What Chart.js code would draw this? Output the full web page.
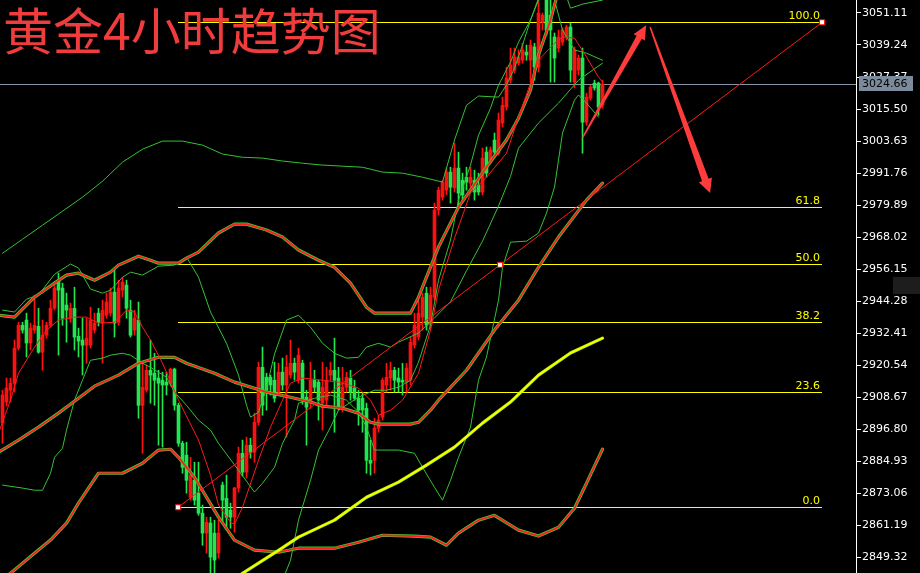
<!DOCTYPE html>
<html>
<head>
<meta charset="utf-8">
<script src="https://cdn.jsdelivr.net/npm/chart.js@4/dist/chart.umd.min.js"></script>
<style>
  html, body { margin: 0; padding: 0; background: #000; }
  #wrap { width: 920px; height: 573px; position: relative; }
  canvas { background: #000; display: block; }
</style>
</head>
<body>
<div id="wrap"><canvas id="goldChart" width="920" height="573"></canvas></div>
<script>
/* ============================================
   GOLD 4H CHART - candles, bands, fib levels
   ============================================ */

const chartTitle = '黄金4小时趋势图';

// price axis ticks
const yTicks = [3051.11, 3039.24, 3027.37, 3015.50, 3003.63, 2991.76, 2979.89, 2968.02, 2956.15,
  2944.28, 2932.41, 2920.54, 2908.67, 2896.80, 2884.93, 2873.06, 2861.19, 2849.32];
const yMin = 2843.40;
const yMax = 3055.93;
const lastPrice = 3024.66;

// candles, one per 4h bar (index 0..150)
const candleOpen = [
  2899.0, 2906.8, 2911.2, 2913.8, 2926.8, 2935.3, 2937.2, 2928.7, 2933.5, 2934.9,
  2925.3, 2931.6, 2935.3, 2941.6, 2952.0, 2949.1, 2942.8, 2937.9, 2941.6, 2931.2,
  2929.8, 2927.9, 2927.9, 2933.5, 2939.8, 2936.1, 2939.0, 2939.8, 2947.6, 2936.4,
  2948.3, 2950.2, 2940.9, 2933.5, 2937.2, 2905.6, 2911.2, 2918.6, 2917.5, 2915.7,
  2914.9, 2914.2, 2913.8, 2919.0, 2905.6, 2891.5, 2887.1, 2871.5, 2877.8, 2873.0,
  2865.6, 2858.2, 2861.9, 2858.2, 2850.8, 2876.0, 2871.1, 2866.7, 2864.1, 2874.9,
  2887.8, 2880.8, 2890.8, 2888.2, 2899.3, 2919.7, 2916.0, 2916.0, 2914.9, 2910.5,
  2917.9, 2913.1, 2916.8, 2921.2, 2914.9, 2921.2, 2908.6, 2906.8, 2914.9, 2914.2,
  2906.4, 2907.5, 2916.8, 2918.6, 2915.7, 2904.9, 2912.3, 2915.7, 2912.0, 2908.2,
  2908.2, 2904.5, 2885.2, 2885.2, 2897.1, 2901.2, 2913.1, 2915.7, 2918.6, 2915.7,
  2914.9, 2914.2, 2914.9, 2927.9, 2930.9, 2938.3, 2947.2, 2935.3, 2945.7, 2978.0,
  2982.8, 2985.4, 2992.1, 2986.2, 2993.6, 2989.1, 2990.2, 2988.0, 2989.1, 2987.3,
  2984.7, 2999.5, 2996.5, 3004.0, 2999.1, 3010.3, 3016.2, 3026.2, 3029.9, 3032.5,
  3033.6, 3036.6, 3033.6, 3038.5, 3031.0, 3047.7, 3057.8, 3050.3, 3042.2, 3038.1,
  3040.3, 3042.2, 3045.9, 3025.5, 3029.9, 3034.4, 3010.6, 3019.5, 3025.1, 3025.1,
  3016.9
];
const candleHigh = [
  2911.2, 2915.7, 2915.7, 2929.8, 2936.4, 2936.4, 2939.8, 2936.1, 2946.5, 2941.6,
  2937.2, 2936.4, 2944.6, 2951.3, 2954.6, 2950.9, 2947.2, 2943.5, 2949.4, 2934.2,
  2937.9, 2937.9, 2942.0, 2939.8, 2941.6, 2944.6, 2947.2, 2949.1, 2955.7, 2952.0,
  2953.1, 2952.0, 2944.6, 2940.9, 2943.9, 2921.2, 2920.5, 2929.8, 2924.9, 2918.6,
  2917.9, 2917.9, 2919.4, 2919.4, 2906.4, 2892.3, 2891.9, 2886.3, 2884.5, 2884.5,
  2868.6, 2864.1, 2864.1, 2863.0, 2863.0, 2877.1, 2879.7, 2869.3, 2875.2, 2890.1,
  2892.7, 2893.8, 2893.4, 2902.7, 2921.6, 2927.2, 2917.5, 2916.8, 2921.6, 2921.2,
  2923.1, 2924.2, 2929.8, 2923.1, 2926.8, 2922.3, 2911.2, 2921.6, 2918.6, 2914.9,
  2921.6, 2919.7, 2921.6, 2930.5, 2919.7, 2919.7, 2917.9, 2918.6, 2914.9, 2911.2,
  2910.1, 2906.4, 2892.7, 2900.8, 2901.9, 2915.7, 2921.2, 2921.6, 2919.7, 2919.4,
  2921.2, 2921.2, 2930.9, 2939.8, 2944.6, 2947.2, 2949.4, 2949.4, 2980.6, 2986.5,
  2989.1, 2993.6, 2993.9, 3002.8, 2999.5, 2991.7, 2993.9, 2993.9, 2992.8, 2991.7,
  3001.0, 3001.4, 3001.4, 3006.6, 3014.0, 3019.9, 3031.0, 3038.1, 3038.1, 3037.4,
  3039.9, 3039.2, 3041.1, 3039.9, 3057.8, 3051.1, 3059.6, 3057.8, 3043.7, 3044.8,
  3045.5, 3046.6, 3047.4, 3038.5, 3035.5, 3038.1, 3021.4, 3024.4, 3026.2, 3025.5,
  3026.2
];
const candleLow = [
  2891.5, 2905.3, 2906.8, 2910.5, 2926.1, 2932.4, 2923.5, 2926.1, 2932.4, 2924.9,
  2918.6, 2930.5, 2934.6, 2940.9, 2924.2, 2935.3, 2929.0, 2936.4, 2926.1, 2923.5,
  2916.8, 2921.2, 2926.8, 2932.4, 2935.0, 2921.2, 2937.9, 2938.7, 2930.9, 2935.3,
  2945.7, 2937.9, 2930.9, 2931.6, 2900.8, 2887.8, 2910.5, 2906.4, 2905.6, 2890.8,
  2890.1, 2909.4, 2912.7, 2903.8, 2890.4, 2880.4, 2873.0, 2870.4, 2868.6, 2864.8,
  2853.7, 2850.8, 2843.3, 2840.7, 2848.9, 2862.2, 2860.0, 2860.0, 2858.5, 2873.4,
  2879.3, 2878.6, 2886.0, 2884.5, 2898.2, 2901.9, 2903.8, 2909.4, 2906.8, 2909.4,
  2911.2, 2893.8, 2915.7, 2914.9, 2913.8, 2906.0, 2890.8, 2904.5, 2910.5, 2900.1,
  2896.4, 2905.6, 2914.9, 2895.6, 2903.8, 2903.1, 2910.5, 2907.5, 2907.5, 2898.2,
  2895.6, 2880.4, 2879.7, 2880.4, 2895.6, 2900.1, 2910.5, 2911.2, 2910.5, 2910.5,
  2909.4, 2910.5, 2913.1, 2926.8, 2929.8, 2933.5, 2933.5, 2934.2, 2944.6, 2976.1,
  2981.7, 2983.6, 2980.6, 2984.7, 2979.1, 2981.7, 2985.4, 2986.5, 2981.7, 2983.6,
  2983.6, 2990.2, 2995.4, 2997.7, 2998.4, 3008.8, 3015.1, 3025.1, 3028.8, 3031.8,
  3032.5, 3033.6, 3025.5, 3026.2, 3029.2, 3044.8, 3042.9, 3025.5, 3025.5, 3036.6,
  3039.2, 3041.1, 3025.5, 3023.3, 3028.1, 2999.1, 3009.5, 3018.8, 3022.5, 3013.2,
  3015.8
];
const candleClose = [
  2909.4, 2912.0, 2913.8, 2926.8, 2935.3, 2933.5, 2928.7, 2934.2, 2935.3, 2925.3,
  2931.6, 2935.3, 2941.6, 2949.1, 2948.3, 2937.9, 2940.9, 2941.6, 2930.9, 2929.4,
  2927.9, 2930.5, 2937.2, 2936.1, 2936.4, 2940.9, 2943.9, 2947.6, 2936.1, 2949.1,
  2951.3, 2941.6, 2931.6, 2937.9, 2905.6, 2912.3, 2918.6, 2916.8, 2914.9, 2913.8,
  2913.1, 2913.1, 2919.0, 2905.6, 2891.5, 2882.6, 2877.8, 2879.7, 2870.4, 2865.6,
  2858.2, 2862.2, 2849.3, 2848.2, 2858.2, 2870.4, 2864.1, 2864.1, 2874.9, 2887.8,
  2880.8, 2890.8, 2888.2, 2899.3, 2919.7, 2905.6, 2911.2, 2913.1, 2908.2, 2917.9,
  2913.1, 2919.7, 2921.2, 2917.9, 2924.2, 2907.5, 2904.9, 2914.9, 2912.3, 2907.5,
  2912.3, 2914.9, 2918.6, 2914.9, 2904.9, 2912.3, 2916.0, 2910.5, 2908.2, 2903.8,
  2903.8, 2885.2, 2884.1, 2897.1, 2900.1, 2914.9, 2916.0, 2918.6, 2914.9, 2914.2,
  2914.2, 2919.4, 2929.0, 2935.3, 2939.8, 2945.7, 2935.3, 2946.5, 2978.0, 2985.4,
  2988.4, 2992.1, 2986.5, 2993.6, 2984.3, 2983.6, 2988.4, 2990.2, 2984.7, 2984.7,
  2997.3, 2991.7, 3000.3, 2999.5, 3011.4, 3016.9, 3027.0, 3031.8, 3034.8, 3034.8,
  3037.4, 3035.5, 3039.2, 3031.0, 3051.1, 3050.3, 3044.8, 3044.8, 3034.4, 3042.2,
  3044.8, 3045.9, 3029.9, 3037.4, 3034.4, 3010.6, 3019.9, 3023.6, 3023.3, 3016.2,
  3024.7
];

// indicator lines, [bar index, price]
const bandOuterUp = [[0,2962.0],[5,2967.2],[10,2972.4],[15,2977.6],[20,2982.8],[25,2988.7],[30,2995.8],[35,3000.6],
  [40,3003.6],[45,3003.6],[50,3002.1],[55,2998.8],[60,2997.6],[65,2997.3],[70,2996.2],[75,2995.4],[80,2994.7],
  [85,2994.3],[90,2993.9],[95,2992.1],[100,2991.7],[105,2990.2],[110,2988.4],[113,3004.0],[116,3016.9],
  [119,3020.3],[124,3019.9],[126,3024.4],[128,3030.7],[130,3039.2],[132,3048.5],[134,3056.6],[137,3065.2],
  [140,3061.5],[142,3052.9],[145,3054.4],[150,3055.9]];
const bandUp = [[0,2940.9],[3,2940.2],[6,2945.0],[9,2946.5],[13,2954.2],[17,2958.0],[19,2956.5],[22,2948.7],
  [25,2947.2],[27,2948.3],[30,2953.1],[32,2955.0],[35,2953.9],[39,2957.2],[43,2957.6],[46,2960.6],[49,2953.1],
  [52,2940.2],[56,2928.6],[59,2916.8],[61,2905.6],[62,2901.2],[64,2903.0],[66,2911.9],[68,2924.6],[71,2937.2],
  [74,2939.0],[77,2934.6],[80,2928.6],[83,2924.9],[86,2923.1],[89,2923.4],[91,2927.2],[94,2928.6],[97,2927.2],
  [99,2929.0],[104,2932.4],[108,2938.0],[112,2944.0],[116,2955.5],[120,2966.5],[124,2979.5],[127,2990.5],
  [129,3001.0],[134,3010.3],[139,3017.7],[144,3026.2],[150,3032.5]];
const bandLow = [[0,2876.0],[5,2874.9],[8,2874.1],[10,2874.1],[12,2880.4],[13,2886.3],[15,2889.7],[16,2896.4],
  [18,2907.5],[20,2914.9],[22,2922.3],[25,2923.1],[27,2924.2],[30,2924.9],[32,2924.2],[35,2921.2],[37,2919.7],
  [41,2916.0],[43,2910.5],[46,2905.6],[49,2900.1],[52,2896.4],[54,2891.5],[59,2881.5],[63,2873.4],[65,2876.7],
  [68,2882.6],[70,2891.5],[73,2900.1],[74,2906.4],[78,2908.2],[82,2909.4],[86,2907.5],[89,2903.1],[91,2897.5],
  [93,2889.0],[99,2889.0],[103,2887.8],[105,2882.6],[108,2875.2],[110,2870.4],[112,2877.8],[114,2886.3],
  [117,2897.5],[119,2914.9],[121,2923.5],[124,2944.6],[125,2956.8],[127,2966.1],[131,2966.5],[134,2969.5],
  [136,2976.9],[138,2986.5],[140,3006.6],[143,3018.8],[144,3020.7],[146,3017.7],[149,3012.5]];
const bandRise = [[69,2837.0],[72,2848.1],[74,2863.0],[77,2877.8],[79,2889.0],[82,2897.5],[84,2903.8],[89,2908.6],
  [93,2911.2],[96,2911.2],[99,2912.3],[102,2914.9],[104,2921.6],[107,2935.3],[109,2952.0],[112,2966.9],
  [114,2981.7],[117,2994.7],[119,3005.8],[122,3015.8],[124,3024.4],[127,3032.9],[129,3040.3],[132,3048.5],
  [134,3055.9],[137,3061.5],[140,3044.8],[143,3037.4],[146,3036.2],[150,3033.6]];
const maFast = [[-1,2895.3],[2,2907.5],[4,2917.5],[8,2927.2],[11,2933.5],[14,2937.2],[18,2938.3],[21,2938.3],
  [24,2936.1],[28,2936.4],[31,2940.9],[33,2940.2],[35,2934.6],[37,2929.8],[40,2921.2],[44,2907.5],[49,2892.7],
  [52,2879.7],[54,2868.6],[57,2862.2],[58,2861.5],[60,2867.8],[64,2885.2],[67,2897.5],[70,2907.5],[72,2913.8],
  [75,2915.7],[80,2914.9],[84,2914.2],[89,2912.0],[92,2907.5],[94,2901.9],[97,2903.8],[100,2907.5],[104,2917.5],
  [107,2933.5],[109,2948.3],[113,2967.6],[117,2984.3],[121,2990.2],[126,2999.1],[129,3012.5],[132,3025.1],
  [134,3033.6],[138,3039.9],[140,3042.2],[143,3041.8],[146,3034.8],[149,3027.3],[150,3025.5]];
const envUpper = [[-1,2939.0],[3,2938.3],[8,2945.7],[13,2950.9],[16,2953.9],[19,2954.6],[23,2952.0],[27,2955.0],
  [29,2957.6],[34,2960.9],[37,2959.4],[39,2958.3],[44,2958.3],[46,2960.2],[49,2962.4],[54,2969.5],[58,2972.8],
  [61,2972.8],[66,2970.6],[70,2968.0],[74,2963.2],[79,2959.4],[83,2956.8],[87,2950.9],[91,2942.0],[93,2939.8],
  [102,2939.8],[104,2945.7],[109,2964.3],[114,2979.1],[121,2993.9],[126,3004.0],[129,3012.1],[132,3022.5],
  [134,3035.5],[137,3048.5],[139,3059.6]];
const envMiddle = [[-1,2888.2],[4,2892.7],[9,2897.5],[14,2902.7],[19,2908.2],[23,2912.7],[29,2916.8],[34,2921.2],
  [39,2923.4],[43,2923.4],[46,2921.2],[53,2917.5],[58,2914.2],[66,2910.5],[72,2908.6],[77,2906.8],[80,2905.3],
  [85,2904.5],[89,2902.7],[92,2899.3],[94,2898.6],[102,2898.6],[104,2899.3],[107,2903.8],[109,2907.5],
  [116,2918.6],[123,2933.5],[129,2944.6],[134,2956.8],[139,2968.0],[146,2981.7],[150,2988.0]];
const envLower = [[-1,2840.0],[2,2843.3],[8,2850.7],[12,2855.6],[16,2861.9],[19,2869.3],[24,2880.4],[30,2880.4],
  [35,2884.1],[39,2889.0],[42,2889.3],[44,2886.3],[48,2878.9],[54,2864.1],[58,2855.6],[63,2851.9],[69,2851.1],
  [74,2852.6],[83,2852.6],[89,2854.8],[95,2857.4],[103,2857.1],[107,2856.7],[111,2853.7],[114,2858.2],
  [119,2863.0],[123,2864.8],[129,2859.3],[134,2857.1],[139,2860.4],[143,2867.4],[146,2876.7],[150,2889.3]];
const maSlow = [[58,2840.7],[60,2843.3],[69,2851.8],[74,2856.7],[83,2863.0],[91,2871.5],[99,2877.1],[106,2883.4],
  [113,2890.1],[120,2899.0],[127,2906.8],[134,2916.8],[142,2925.0],[150,2930.5]];

// fibonacci retracement
const fibLevels = [0, 23.6, 38.2, 50, 61.8, 100];
const fibLow = 2867.77;
const fibHigh = 3047.66;
const fibFrom = 43.9;
const fibTo = 204.9;

// hand drawn arrows, [bar index, price] tail then tip
const arrowUp = [[145.1, 3005.1], [160.9, 3046.6]];
const arrowDown = [[161.9, 3045.9], [176.9, 2984.3]];

const RED = '#ff1010';
const GREEN = '#20e650';
const THIN_GREEN = '#33c233';

// Build datasets
const candleColors = candleOpen.map((o, i) => candleClose[i] >= o ? RED : GREEN);
const wickData = candleOpen.map((o, i) => ({ x: i, y: [candleLow[i], candleHigh[i]] }));
const bodyData = candleOpen.map((o, i) => ({ x: i, y: [o, candleClose[i]] }));
const fibPrice = lvl => fibLow + (fibHigh - fibLow) * lvl / 100;

function lineSet(data, color, width, order) {
  return { type: 'line', data: data, borderColor: color, borderWidth: width, pointRadius: 0,
    fill: false, tension: 0, order: order, borderJoinStyle: 'round', borderCapStyle: 'round' };
}

const datasets = [
  { type: 'bar', data: wickData, backgroundColor: candleColors, barThickness: 1, grouped: false,
    borderWidth: 0, minBarLength: 1, order: 100 },
  { type: 'bar', data: bodyData, backgroundColor: candleColors, barThickness: 3, grouped: false,
    borderWidth: 0, minBarLength: 1, order: 99 },
  lineSet(bandOuterUp, THIN_GREEN, 1, 60),
  lineSet(bandUp, THIN_GREEN, 1, 59),
  lineSet(bandLow, THIN_GREEN, 1, 58),
  lineSet(bandRise, THIN_GREEN, 1, 57),
  lineSet(envUpper, '#3ccf3c', 3.2, 50), lineSet(envUpper, '#ff1e1e', 1.8, 49),
  lineSet(envMiddle, '#3ccf3c', 3.2, 48), lineSet(envMiddle, '#ff1e1e', 1.8, 47),
  lineSet(envLower, '#3ccf3c', 3.2, 46), lineSet(envLower, '#ff1e1e', 1.8, 45),
  lineSet(maSlow, '#b8f000', 3.2, 44), lineSet(maSlow, '#ffff00', 1.5, 43),
  lineSet(maFast, '#ff1a1a', 1, 40),
  lineSet([[fibFrom, fibLow], [fibTo, fibHigh]], '#ff1a1a', 1, 5),
  { type: 'line', data: [[fibFrom, fibLow], [(fibFrom + fibTo) / 2, fibPrice(50)], [fibTo, fibHigh]],
    showLine: false, pointStyle: 'rect', pointRadius: 3.6, pointBackgroundColor: '#fff',
    pointBorderColor: '#ff0000', pointBorderWidth: 1, order: 1 }
];

// Arrows, labels, price box and title
function drawArrow(ctx, chart, pts, w0, w1, hw, hl) {
  const xs = chart.scales.x, ys = chart.scales.y;
  const ax = xs.getPixelForValue(pts[0][0]), ay = ys.getPixelForValue(pts[0][1]);
  const bx = xs.getPixelForValue(pts[1][0]), by = ys.getPixelForValue(pts[1][1]);
  const len = Math.hypot(bx - ax, by - ay);
  const ux = (bx - ax) / len, uy = (by - ay) / len;
  const nx = -uy, ny = ux;
  const cx = bx - ux * hl, cy = by - uy * hl;
  ctx.beginPath();
  ctx.moveTo(ax + nx * w0 / 2, ay + ny * w0 / 2);
  ctx.lineTo(cx + nx * w1 / 2, cy + ny * w1 / 2);
  ctx.lineTo(cx + nx * hw / 2, cy + ny * hw / 2);
  ctx.lineTo(bx, by);
  ctx.lineTo(cx - nx * hw / 2, cy - ny * hw / 2);
  ctx.lineTo(cx - nx * w1 / 2, cy - ny * w1 / 2);
  ctx.lineTo(ax - nx * w0 / 2, ay - ny * w0 / 2);
  ctx.closePath();
  ctx.fill();
}

// crisp 1px horizontal line at a price
function hLine(ctx, chart, price, fromIdx, toIdx, color) {
  const xs = chart.scales.x, ys = chart.scales.y;
  const y = Math.floor(ys.getPixelForValue(price)) + 0.5;
  const x0 = Math.max(xs.getPixelForValue(fromIdx), chart.chartArea.left);
  const x1 = Math.min(xs.getPixelForValue(toIdx), chart.chartArea.right);
  ctx.strokeStyle = color;
  ctx.lineWidth = 1;
  ctx.beginPath();
  ctx.moveTo(Math.round(x0), y);
  ctx.lineTo(Math.round(x1), y);
  ctx.stroke();
}

const levelsPlugin = {
  id: 'levels',
  beforeDatasetsDraw(chart) {
    const ctx = chart.ctx;
    ctx.save();
    hLine(ctx, chart, lastPrice, -1, 214, '#8595a6');
    fibLevels.forEach(lvl => hLine(ctx, chart, fibPrice(lvl), fibFrom, fibTo, '#ffff00'));
    ctx.restore();
  }
};

const overlayPlugin = {
  id: 'overlay',
  afterDraw(chart) {
    const ctx = chart.ctx;
    const xs = chart.scales.x, ys = chart.scales.y;
    ctx.save();

    // fib level labels
    ctx.font = '11px "DejaVu Sans"';
    ctx.fillStyle = '#ffff00';
    ctx.textAlign = 'right';
    ctx.textBaseline = 'alphabetic';
    const lx = xs.getPixelForValue(fibTo) - 2;
    fibLevels.forEach(lvl => {
      ctx.fillText(lvl.toFixed(1), lx, Math.floor(ys.getPixelForValue(fibPrice(lvl))) - 3);
    });

    // arrows
    ctx.fillStyle = '#ff3c3c';
    drawArrow(ctx, chart, arrowUp, 1.5, 6, 13, 14);
    drawArrow(ctx, chart, arrowDown, 1.5, 7, 14, 14);

    // last price box
    const py = ys.getPixelForValue(lastPrice);
    ctx.fillStyle = '#7b8b9b';
    ctx.fillRect(ys.left + 3, Math.round(py) - 8, 54, 15);
    ctx.fillStyle = '#000';
    ctx.textAlign = 'left';
    ctx.textBaseline = 'middle';
    ctx.fillText(lastPrice.toFixed(2), ys.left + 6, py);

    // small panel button at right edge
    ctx.fillStyle = '#1d1d1d';
    ctx.fillRect(893, 277, 27, 17);

    // title
    ctx.font = '50px "Noto Sans CJK SC"';
    ctx.fillStyle = '#f03c3c';
    ctx.textBaseline = 'alphabetic';
    ctx.fillText(chartTitle, 3, 50);
    ctx.restore();
  }
};

new Chart(document.getElementById('goldChart'), {
  type: 'bar',
  data: { datasets: datasets },
  options: {
    responsive: false,
    maintainAspectRatio: false,
    devicePixelRatio: 1,
    animation: false,
    events: [],
    layout: { padding: 0, autoPadding: false },
    plugins: { legend: { display: false }, tooltip: { enabled: false }, title: { display: false } },
    scales: {
      x: { type: 'linear', display: false, offset: false, min: -0.625, max: 213.375 },
      y: {
        type: 'linear', position: 'right', min: yMin, max: yMax,
        afterBuildTicks: s => { s.ticks = yTicks.map(v => ({ value: v })); },
        afterFit: s => { s.width = 64; s.paddingTop = 0; s.paddingBottom = 0; },
        grid: { drawOnChartArea: false, color: '#ffffff', tickLength: 5, tickWidth: 1 },
        border: { display: true, color: '#ffffff', width: 1 },
        ticks: { color: '#ffffff', font: { family: 'DejaVu Sans', size: 11 }, padding: 1,
          autoSkip: false, maxRotation: 0, callback: v => v.toFixed(2) }
      }
    }
  },
  plugins: [levelsPlugin, overlayPlugin]
});
</script>
</body>
</html>
